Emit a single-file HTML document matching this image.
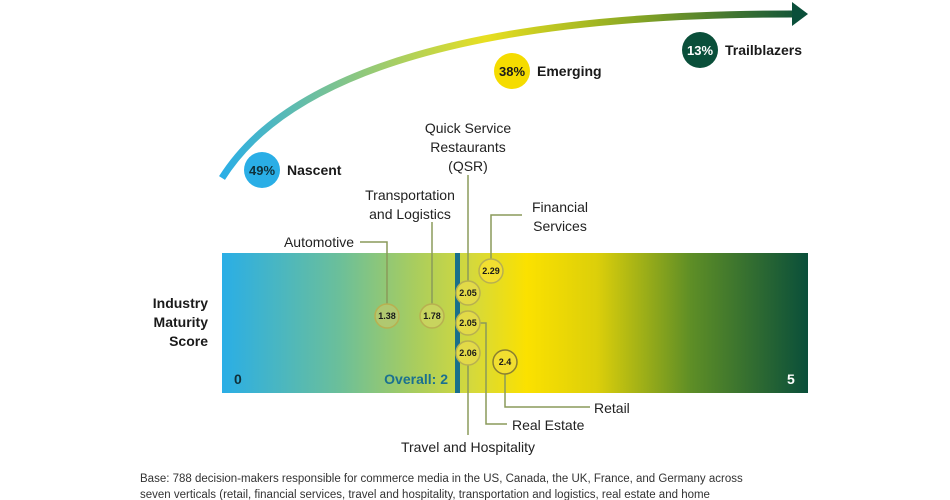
<!DOCTYPE html>
<html><head><style>body{margin:0;background:#fff}svg{display:block}text{font-family:"Liberation Sans",sans-serif}</style></head><body>
<svg width="950" height="500" viewBox="0 0 950 500">
<defs>
<linearGradient id="bar" x1="222" x2="808" gradientUnits="userSpaceOnUse">
<stop offset="0" stop-color="#2aaee6"/><stop offset="0.2" stop-color="#6bbf9a"/><stop offset="0.33" stop-color="#a9cd5e"/><stop offset="0.43" stop-color="#d6d93a"/><stop offset="0.52" stop-color="#fbe100"/><stop offset="0.64" stop-color="#dccf0a"/><stop offset="0.8" stop-color="#5e8e26"/><stop offset="1" stop-color="#0a4f3a"/></linearGradient>
<linearGradient id="arc" x1="222" x2="808" gradientUnits="userSpaceOnUse">
<stop offset="0" stop-color="#2aaee6"/><stop offset="0.45" stop-color="#e8df20"/><stop offset="0.7" stop-color="#8aa824"/><stop offset="1" stop-color="#0a4f3a"/></linearGradient>
</defs>
<path d="M222,178 C290,70 480,14 792,14" fill="none" stroke="url(#arc)" stroke-width="7"/>
<polygon points="792,2 808,14 792,26" fill="#0a4f3a"/>
<circle cx="262" cy="170" r="18" fill="#2aaee6"/><text x="262" y="175" font-size="13" font-weight="bold" text-anchor="middle" fill="#10303a">49%</text>
<text x="287" y="175" font-size="14" font-weight="bold" fill="#1a1a1a">Nascent</text>
<circle cx="512" cy="71" r="18" fill="#f5dc00"/><text x="512" y="76" font-size="13" font-weight="bold" text-anchor="middle" fill="#1a1a1a">38%</text>
<text x="537" y="76" font-size="14" font-weight="bold" fill="#1a1a1a">Emerging</text>
<circle cx="700" cy="50" r="18" fill="#0a4f3a"/><text x="700" y="55" font-size="13" font-weight="bold" text-anchor="middle" fill="#fff">13%</text>
<text x="725" y="55" font-size="14" font-weight="bold" fill="#1a1a1a">Trailblazers</text>
<rect x="222" y="253" width="586" height="140" fill="url(#bar)"/>
<rect x="455" y="253" width="5" height="140" fill="#1a6f8a"/>
<text x="234" y="384" font-size="14" font-weight="bold" fill="#10303a">0</text>
<text x="787" y="384" font-size="14" font-weight="bold" fill="#fff">5</text>
<text x="448" y="384" font-size="14" font-weight="bold" fill="#1a7090" text-anchor="end">Overall: 2</text>
<g font-size="14" font-weight="bold" fill="#1a1a1a" text-anchor="end"><text x="208" y="308">Industry</text><text x="208" y="327">Maturity</text><text x="208" y="346">Score</text></g>
<g fill="none" stroke="#8a9a5a" stroke-width="1.5">
<polyline points="360,242 387,242 387,304"/>
<line x1="432" y1="222" x2="432" y2="304"/>
<line x1="468" y1="175" x2="468" y2="281"/>
<polyline points="522,215 491,215 491,259"/>
<polyline points="505,374 505,407 590,407"/>
<polyline points="480,323 486,323 486,424 507,424"/>
<line x1="468" y1="365" x2="468" y2="435"/>
</g>
<g stroke="#b8b050" stroke-width="1.5">
<circle cx="387" cy="316" r="12" fill="#b0c870"/><circle cx="432" cy="316" r="12" fill="#c8d45e"/>
<circle cx="468" cy="293" r="12" fill="#e2da48"/><circle cx="468" cy="323" r="12" fill="#e2da48"/><circle cx="468" cy="353" r="12" fill="#e2da48"/>
<circle cx="491" cy="271" r="12" fill="#f2df30"/><circle cx="505" cy="362" r="12" fill="#f2df30" stroke="#8a8030"/>
</g>
<g font-size="9" font-weight="bold" text-anchor="middle" fill="#1a1a1a">
<text x="387" y="319">1.38</text><text x="432" y="319">1.78</text><text x="468" y="296">2.05</text><text x="468" y="326">2.05</text><text x="468" y="356">2.06</text><text x="491" y="274">2.29</text><text x="505" y="365">2.4</text>
</g>
<g font-size="14" fill="#222">
<text x="354" y="247" text-anchor="end">Automotive</text>
<text x="410" y="200" text-anchor="middle">Transportation</text><text x="410" y="219" text-anchor="middle">and Logistics</text>
<text x="468" y="133" text-anchor="middle">Quick Service</text><text x="468" y="152" text-anchor="middle">Restaurants</text><text x="468" y="171" text-anchor="middle">(QSR)</text>
<text x="560" y="212" text-anchor="middle">Financial</text><text x="560" y="231" text-anchor="middle">Services</text>
<text x="594" y="413">Retail</text>
<text x="512" y="430">Real Estate</text>
<text x="468" y="452" text-anchor="middle">Travel and Hospitality</text>
</g>
<g font-size="11.5" fill="#333"><text x="140" y="482">Base: 788 decision-makers responsible for commerce media in the US, Canada, the UK, France, and Germany across</text>
<text x="140" y="498">seven verticals (retail, financial services, travel and hospitality, transportation and logistics, real estate and home</text></g>
</svg>
</body></html>
